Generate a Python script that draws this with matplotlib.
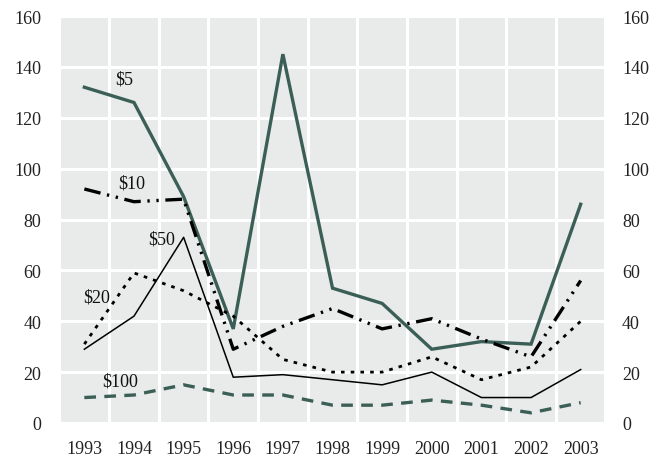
import numpy as np
import matplotlib
matplotlib.use("Agg")
import matplotlib.pyplot as plt

years = [1993, 1994, 1995, 1996, 1997, 1998, 1999, 2000, 2001, 2002, 2003]
note_5 = [132, 126, 89, 37, 145, 53, 47, 29, 32, 31, 86]
note_10 = [92, 87, 88, 29, 38, 45, 37, 41, 33, 26, 56]
note_20 = [31, 59, 52, 42, 25, 20, 20, 26, 17, 22, 40]
note_50 = [29, 42, 73, 18, 19, 17, 15, 20, 10, 10, 21]
note_100 = [10, 11, 15, 11, 11, 7, 7, 9, 7, 4, 8]
y_ticks = [0, 20, 40, 60, 80, 100, 120, 140, 160]

green = '#3b5f56'
bg = '#e8ebea'

plt.rcParams['font.family'] = ['Liberation Serif', 'DejaVu Serif']

fig = plt.figure(figsize=(6.52, 4.6), dpi=100)
ax = fig.add_axes([0.0936, 0.0783, 0.8328, 0.8847])
ax.set_facecolor(bg)

ax.plot(years, note_5, color=green, lw=2.4, solid_joinstyle='miter')
ax.plot(years, note_10, color='black', lw=2.4, linestyle=(0, (5, 2, 0.7, 2, 0.7, 2)))
ax.plot(years, note_20, color='black', lw=2.0, linestyle=(0, (1.3, 2.2)))
ax.plot(years, note_50, color='black', lw=1.1)
ax.plot(years, note_100, color=green, lw=2.4, linestyle=(0, (3.5, 2.5)))

# series labels
label_kw = dict(fontsize=13, ha='center', va='center', color='#111111')
ax.text(1993.81, 135.4, '$5', **label_kw)
ax.text(1993.95, 94.5, '$10', **label_kw)
ax.text(1994.55, 72.5, '$50', **label_kw)
ax.text(1993.25, 49.5, '$20', **label_kw)
ax.text(1993.72, 16.5, '$100', **label_kw)

ax.set_xlim(1992.53, 2003.47)
ax.set_ylim(0, 160)
ax.set_xticks(years)
ax.set_yticks(y_ticks)
ax.set_xticks(np.arange(1993.5, 2003, 1), minor=True)
ax.grid(True, which='minor', axis='x', color='white', lw=2.2)
ax.grid(True, which='major', axis='y', color='white', lw=2.2)
ax.set_axisbelow(True)
for s in ax.spines.values():
    s.set_visible(False)
ax.tick_params(which='both', length=0, labelsize=13, colors='#222222')
ax.tick_params(axis='x', pad=12)
ax.tick_params(axis='y', pad=14)

ax2 = ax.twinx()
ax2.set_ylim(0, 160)
ax2.set_yticks(y_ticks)
for s in ax2.spines.values():
    s.set_visible(False)
ax2.tick_params(length=0, labelsize=13, colors='#222222', pad=13)

fig.savefig('out.png', dpi=100)
